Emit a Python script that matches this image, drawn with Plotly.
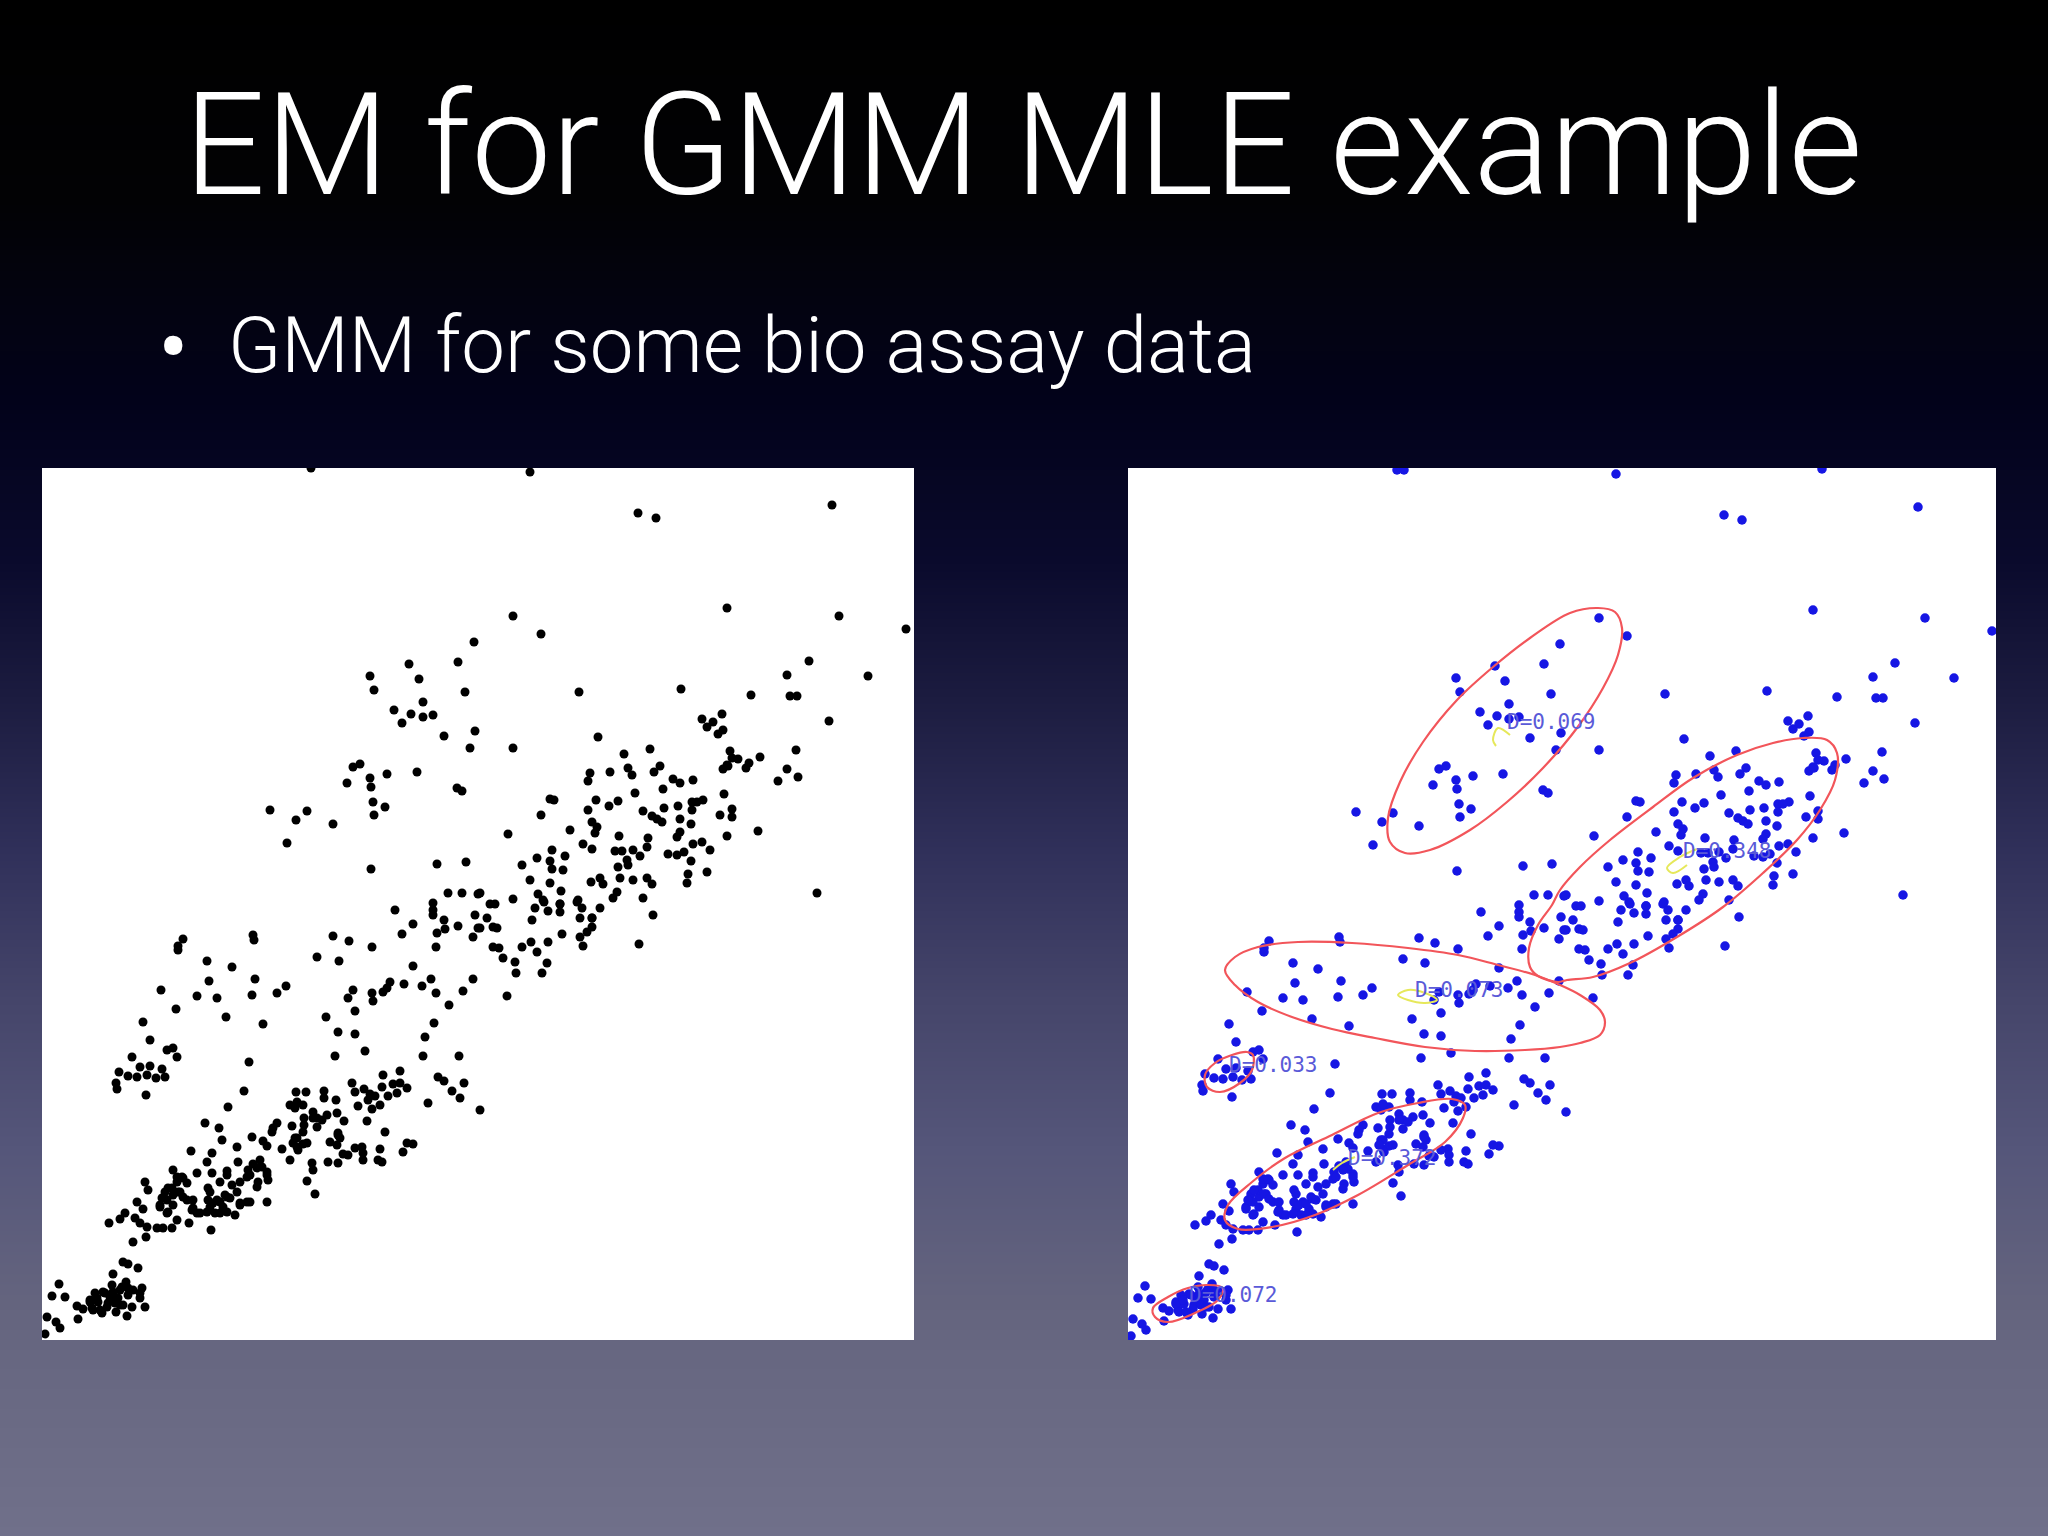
import plotly.graph_objects as go

W = 2048
H = 1536

# slide background, read down the gap between the two panels
bg_y = [0, 200, 300, 400, 560, 700, 850, 1000, 1150, 1300, 1536]
bg_color = ["#000000", "#020204", "#030310", "#02021a", "#0a0a2c", "#1c1c40",
            "#30305a", "#45456a", "#55567a", "#64647e", "#70708a"]

# assay points in panel pixels, the same cloud is on both panels
upper_x = [269, 488, 228, 254, 265, 245, 291, 305, 311, 318, 328, 329, 331, 343, 332, 345, 375, 415, 420, 329,
           395, 424, 406, 420, 391, 436, 328, 332, 367, 377, 381, 352, 369, 360, 381, 391, 416, 432, 423, 402,
           433, 428, 596, 614, 790, 471, 499, 685, 797, 864, 767, 745, 826, 709, 748, 755, 537, 639, 787, 680,
           660, 665, 671, 681, 676, 556, 471, 608, 582, 754, 688, 718, 696, 690, 707, 704, 685, 681, 686, 745,
           756, 736]
upper_y = [0, 4, 342, 352, 343, 375, 356, 315, 299, 296, 310, 319, 334, 339, 347, 306, 304, 320, 323, 401,
           396, 394, 425, 425, 435, 426, 208, 222, 196, 211, 234, 242, 246, 255, 249, 247, 194, 174, 224, 268,
           263, 280, 45, 50, 37, 148, 166, 140, 148, 161, 193, 207, 208, 227, 228, 228, 224, 221, 253, 246,
           251, 259, 254, 262, 266, 269, 280, 281, 286, 282, 283, 289, 291, 290, 295, 300, 297, 301, 298, 301,
           309, 313]

middle_x = [548, 546, 568, 586, 590, 618, 612, 631, 638, 651, 621, 593, 508, 512, 554, 576, 567, 546, 682, 661,
            650, 655, 650, 636, 622, 601, 610, 615, 620, 499, 690, 678, 690, 638, 649, 550, 555, 553, 528, 466,
            716, 685, 638, 635, 577, 606, 605, 541, 550, 651, 660, 668, 510, 523, 495, 480, 573, 580, 591, 598,
            585, 626, 635, 642, 649, 508, 510, 521, 576, 586, 665, 646, 558, 549, 561, 578, 591, 605, 610, 645,
            488, 508, 519, 496, 575, 571, 601, 775, 471, 448, 453, 536, 501, 518, 438, 493, 502, 506, 518, 518,
            535, 540, 538, 550, 558, 611, 490, 550, 550, 545, 538, 520, 541, 597, 489, 506, 480, 495, 451, 457,
            461, 473, 505, 474, 500, 465, 445, 438, 451, 455]
middle_y = [305, 313, 304, 300, 307, 298, 304, 311, 315, 312, 321, 325, 331, 332, 332, 333, 338, 342, 326, 332,
            334, 334, 342, 338, 340, 343, 348, 351, 354, 347, 341, 347, 349, 351, 356, 354, 359, 365, 362, 366,
            363, 368, 364, 369, 368, 370, 379, 376, 381, 376, 374, 382, 382, 388, 390, 397, 383, 383, 382, 388,
            392, 386, 387, 384, 393, 393, 401, 402, 399, 397, 404, 406, 410, 414, 416, 410, 412, 410, 416, 415,
            412, 415, 423, 426, 424, 430, 430, 425, 431, 436, 436, 432, 432, 436, 425, 440, 434, 443, 436, 444,
            434, 440, 450, 450, 440, 447, 452, 450, 459, 464, 469, 466, 478, 476, 474, 474, 479, 484, 479, 480,
            490, 494, 495, 505, 505, 528, 450, 460, 459, 460]

lower_x = [141, 136, 136, 211, 212, 291, 307, 330, 275, 297, 353, 371, 360, 391, 391, 402, 416, 403, 395, 394,
           433, 436, 431, 165, 190, 371, 167, 213, 119, 155, 175, 210, 235, 244, 311, 306, 330, 331, 348, 345,
           341, 362, 380, 389, 394, 421, 431, 407, 134, 184, 313, 284, 221, 101, 296, 313, 392, 383, 108, 125,
           131, 135, 90, 323, 293, 381, 417, 207, 77, 98, 108, 120, 86, 95, 105, 114, 123, 74, 75, 104,
           341, 358, 396, 402, 422, 410, 418, 386, 438, 310, 313, 322, 340, 351, 358, 365, 355, 346, 328, 333,
           326, 338, 330, 316, 254, 264, 282, 282, 294, 202, 186, 248, 253, 261, 255, 271, 275, 285, 280, 295,
           302, 275, 262, 262, 261, 250, 235, 231, 230, 325, 343, 163, 177, 296, 298, 210, 180, 221, 225, 253,
           255, 261, 240, 288, 295, 320, 313, 338, 371, 365, 361, 321, 195, 170, 149, 301, 306, 248, 270, 286,
           296, 321, 336, 340, 165, 196, 218, 211, 220, 206, 271, 225, 131, 155, 170, 185, 185, 205, 226, 265,
           103, 106, 141, 135, 145, 178, 198, 216, 215, 166, 190, 195, 273, 138, 123, 131, 125, 145, 185, 166,
           175, 225, 205, 198, 95, 118, 131, 101, 151, 168, 181, 125, 155, 173, 185, 193, 83, 78, 67, 93,
           98, 105, 135, 147, 115, 121, 130, 169, 104, 91, 81, 86, 96, 71, 17, 84, 10, 23, 100, 70,
           53, 61, 78, 91, 48, 56, 68, 76, 86, 98, 35, 41, 50, 60, 66, 74, 81, 90, 103, 85,
           36, 5, 14, 18, 3]
lower_y = [471, 478, 482, 467, 472, 468, 473, 479, 489, 493, 442, 456, 466, 442, 447, 452, 458, 461, 465, 479,
           447, 460, 469, 493, 499, 498, 513, 511, 522, 528, 530, 527, 525, 518, 522, 530, 525, 533, 514, 520,
           524, 516, 518, 511, 525, 523, 511, 537, 541, 549, 543, 549, 556, 554, 564, 566, 555, 569, 572, 582,
           580, 589, 589, 583, 588, 588, 588, 594, 604, 599, 598, 601, 608, 609, 607, 610, 609, 615, 621, 627,
           607, 603, 609, 613, 615, 623, 630, 635, 642, 615, 624, 621, 619, 616, 615, 620, 625, 628, 626, 628,
           632, 637, 641, 638, 624, 624, 623, 630, 632, 623, 639, 637, 640, 637, 634, 644, 650, 647, 652, 645,
           653, 659, 650, 657, 664, 658, 655, 660, 664, 653, 664, 655, 660, 665, 670, 669, 672, 673, 678, 670,
           679, 676, 681, 674, 677, 679, 680, 681, 676, 675, 684, 685, 679, 685, 683, 686, 687, 692, 695, 694,
           695, 692, 692, 694, 694, 694, 692, 696, 699, 702, 702, 704, 702, 705, 705, 703, 707, 709, 712, 713,
           714, 722, 710, 714, 715, 714, 714, 714, 719, 720, 717, 724, 726, 724, 724, 727, 732, 732, 729, 732,
           732, 734, 734, 737, 734, 737, 737, 741, 740, 739, 739, 745, 745, 745, 744, 747, 745, 751, 755, 750,
           755, 759, 752, 755, 760, 760, 760, 762, 769, 774, 794, 796, 800, 806, 816, 814, 828, 829, 820, 817,
           825, 824, 822, 822, 832, 834, 829, 830, 827, 830, 838, 841, 840, 845, 835, 844, 837, 839, 839, 848,
           851, 849, 854, 860, 866]

# extra points inside the dense blobs
dense_x = [135, 140, 130, 136, 126, 120, 118, 126, 141, 151, 150, 158, 165, 171, 178, 183, 188, 168, 178, 198,
           208, 215, 208, 225, 48, 55, 63, 71, 80, 86, 73, 65, 78, 98, 51, 58, 271, 255, 256, 251, 265, 296]
dense_y = [709, 709, 720, 724, 720, 730, 739, 744, 729, 732, 742, 745, 744, 735, 734, 727, 730, 724, 745, 735,
           734, 700, 707, 707, 834, 830, 825, 824, 819, 820, 835, 839, 837, 825, 842, 842, 650, 670, 682, 675, 675, 667]

assay_x = upper_x + middle_x + lower_x + dense_x
assay_y = upper_y + middle_y + lower_y + dense_y

# only seen on the top edge of the right panel
edge_x = [276, 694]
edge_y = [0, -1]

# mixture outlines
outline_1_x = [470, 487, 494, 490, 475, 449, 415, 379, 342, 302, 277, 262, 260, 272, 295, 329, 365, 402, 442]
outline_1_y = [138, 142, 158, 185, 218, 258, 298, 332, 360, 380, 383, 372, 348, 312, 272, 230, 197, 168, 143]
outline_2_x = [699, 709, 707, 692, 669, 635, 595, 549, 502, 465, 439, 430, 410, 402, 401, 410, 424, 432, 452, 482, 525, 565, 609, 645, 675]
outline_2_y = [270, 283, 310, 340, 370, 403, 437, 467, 493, 507, 510, 512, 506, 497, 478, 455, 435, 420, 397, 370, 337, 308, 285, 273, 268]
outline_3_x = [97, 107, 130, 170, 224, 280, 330, 370, 407, 432, 452, 472, 477, 472, 452, 432, 397, 347, 297, 247, 204, 164, 130, 107]
outline_3_y = [500, 487, 477, 472, 473, 478, 485, 495, 505, 515, 525, 540, 552, 565, 573, 577, 580, 581, 577, 568, 559, 547, 532, 515]
outline_4_x = [125, 124, 112, 92, 79, 77, 87, 104, 119]
outline_4_y = [585, 600, 613, 622, 617, 605, 593, 585, 582]
outline_5_x = [337, 335, 317, 280, 230, 187, 144, 110, 97, 100, 124, 157, 204, 250, 290, 324]
outline_5_y = [635, 648, 672, 695, 725, 745, 757, 759, 750, 735, 712, 688, 665, 643, 633, 629]
outline_6_x = [95, 90, 67, 40, 27, 25, 40, 60, 80]
outline_6_y = [818, 830, 843, 852, 847, 838, 827, 818, 815]
outlines = [(outline_1_x, outline_1_y), (outline_2_x, outline_2_y), (outline_3_x, outline_3_y),
            (outline_4_x, outline_4_y), (outline_5_x, outline_5_y), (outline_6_x, outline_6_y)]

# small yellow centre marks, mostly hidden by the points
centre_1_x = [382, 370, 365, 368]
centre_1_y = [265, 258, 270, 276]
centre_2_x = [569, 552, 539, 545, 559]
centre_2_y = [379, 387, 398, 403, 395]
centre_3_x = [270, 280, 297, 309, 297, 280, 270]
centre_3_y = [525, 520, 523, 530, 533, 530, 525]
centre_4_x = [205, 214, 227]
centre_4_y = [700, 693, 687]
centres = [(centre_1_x, centre_1_y), (centre_2_x, centre_2_y), (centre_3_x, centre_3_y), (centre_4_x, centre_4_y)]

label_text = ["D=0.069", "D=0.348", "D=0.073", "D=0.033", "D=0.372", "D=0.072"]
label_x = [379, 555, 287, 101, 220, 61]
label_y = [254, 383, 522, 597, 690, 827]

fig = go.Figure()

# gradient goes in the first subplot so the panels sit on top of it
fig.add_trace(go.Heatmap(
    x=[0, 1], y=bg_y, z=[[v, v] for v in bg_y],
    zsmooth="best", showscale=False, hoverinfo="skip",
    colorscale=[[v / H, c] for v, c in zip(bg_y, bg_color)],
    xaxis="x", yaxis="y",
))

fig.add_trace(go.Scatter(
    x=assay_x, y=assay_y, mode="markers",
    marker=dict(color="#000000", size=9), xaxis="x2", yaxis="y2",
))
fig.add_trace(go.Scatter(
    x=assay_x + edge_x, y=assay_y + edge_y, mode="markers",
    marker=dict(color="#1616e4", size=9.5), xaxis="x3", yaxis="y3",
))
for ox, oy in outlines:
    fig.add_trace(go.Scatter(
        x=ox + ox[:1], y=oy + oy[:1], mode="lines",
        line=dict(color="#f2555a", width=2.2, shape="spline", smoothing=1),
        xaxis="x3", yaxis="y3",
    ))
for cx, cy in centres:
    fig.add_trace(go.Scatter(
        x=cx, y=cy, mode="lines",
        line=dict(color="#e6e85a", width=2, shape="spline"),
        xaxis="x3", yaxis="y3",
    ))
fig.add_trace(go.Scatter(
    x=label_x, y=label_y, text=label_text, mode="text", textposition="middle right",
    textfont=dict(family="DejaVu Sans Mono", size=21, color="#5a5ad8"),
    xaxis="x3", yaxis="y3",
))

hidden = dict(visible=False, showgrid=False, zeroline=False)
fig.update_layout(
    width=W, height=H,
    margin=dict(l=0, r=0, t=0, b=0),
    showlegend=False,
    paper_bgcolor="#000000",
    plot_bgcolor="#ffffff",
    xaxis=dict(hidden, domain=[0, 1], range=[0, 1]),
    yaxis=dict(hidden, domain=[0, 1], range=[H, 0]),
    xaxis2=dict(hidden, domain=[42 / W, 914 / W], range=[0, 872], anchor="y2"),
    yaxis2=dict(hidden, domain=[1 - 1340 / H, 1 - 468 / H], range=[872, 0], anchor="x2"),
    xaxis3=dict(hidden, domain=[1128 / W, 1996 / W], range=[0, 868], anchor="y3"),
    yaxis3=dict(hidden, domain=[1 - 1340 / H, 1 - 468 / H], range=[870, -2], anchor="x3"),
    annotations=[
        dict(text="EM for GMM MLE example", xref="paper", yref="paper", x=182 / W, y=1 - 145 / H,
             xanchor="left", yanchor="middle", showarrow=False,
             font=dict(family="Roboto", weight=300, size=143, color="#ffffff")),
        dict(text="•", xref="paper", yref="paper", x=155 / W, y=1 - 347 / H,
             xanchor="left", yanchor="middle", showarrow=False,
             font=dict(family="Roboto", weight=300, size=100, color="#ffffff")),
        dict(text="GMM for some bio assay data", xref="paper", yref="paper", x=226 / W, y=1 - 346 / H,
             xanchor="left", yanchor="middle", showarrow=False,
             font=dict(family="Roboto", weight=300, size=78, color="#ffffff")),
    ],
)

fig.write_html("out.html", config=dict(displayModeBar=False), post_script="document.body.style.margin='0';")
